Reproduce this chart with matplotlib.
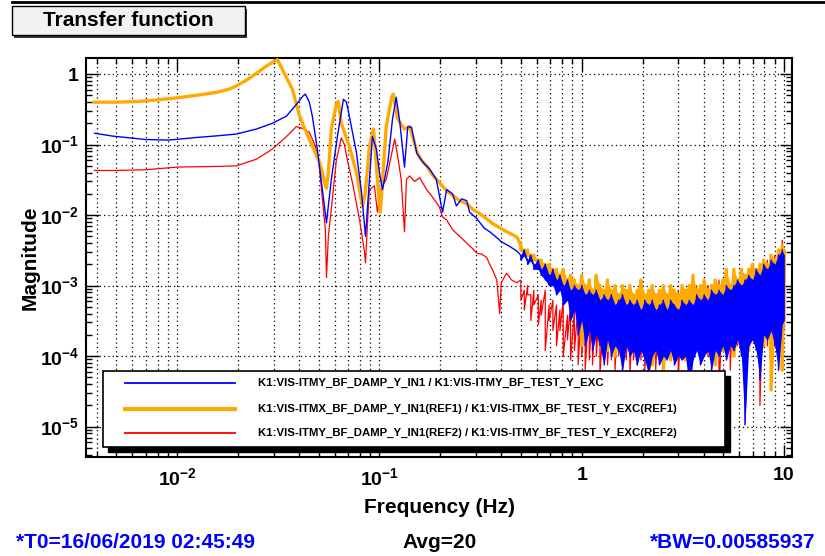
import numpy as np
import matplotlib.pyplot as plt
from matplotlib.patches import Rectangle
from matplotlib.lines import Line2D
from matplotlib.ticker import FixedLocator, FixedFormatter, LogLocator, NullFormatter

plt.rcParams['font.family'] = ['Liberation Sans', 'DejaVu Sans']
plt.rcParams['font.weight'] = 'bold'
plt.rcParams['mathtext.fontset'] = 'custom'
plt.rcParams['mathtext.rm'] = 'Liberation Sans:bold'
plt.rcParams['mathtext.it'] = 'Liberation Sans:bold'
plt.rcParams['mathtext.bf'] = 'Liberation Sans:bold'

# ---- data ----
labels = ['K1:VIS-ITMY_BF_DAMP_Y_IN1 / K1:VIS-ITMY_BF_TEST_Y_EXC',
          'K1:VIS-ITMX_BF_DAMP_Y_IN1(REF1) / K1:VIS-ITMX_BF_TEST_Y_EXC(REF1)',
          'K1:VIS-ITMY_BF_DAMP_Y_IN1(REF2) / K1:VIS-ITMY_BF_TEST_Y_EXC(REF2)']

# low frequency part (single trace)
blue_f = [0.0039, 0.0048, 0.0070, 0.0091, 0.0124, 0.0156, 0.0196, 0.0246, 0.0295, 0.0347,
          0.0388, 0.0416, 0.0430, 0.0450, 0.0466, 0.0493, 0.0522, 0.0547, 0.0578, 0.0619,
          0.0663, 0.0687, 0.0710, 0.0769, 0.0815, 0.0853, 0.0892, 0.0923, 0.0966, 0.100,
          0.1035, 0.110, 0.116, 0.121, 0.126, 0.133, 0.138, 0.144, 0.153, 0.165,
          0.177, 0.191, 0.205, 0.215, 0.230, 0.240, 0.255, 0.270, 0.279, 0.302,
          0.330, 0.351, 0.380, 0.400, 0.440, 0.477]
blue_m = [0.145, 0.132, 0.118, 0.116, 0.126, 0.133, 0.141, 0.166, 0.20, 0.254,
          0.37, 0.48, 0.52, 0.40, 0.25, 0.086, 0.023, 0.0078, 0.032, 0.128,
          0.44, 0.40, 0.25, 0.078, 0.021, 0.005, 0.032, 0.13, 0.086, 0.04,
          0.023, 0.056, 0.23, 0.47, 0.21, 0.048, 0.18, 0.176, 0.075, 0.055,
          0.045, 0.032, 0.011, 0.023, 0.020, 0.0135, 0.017, 0.016, 0.011, 0.009,
          0.0065, 0.0058, 0.0048, 0.0042, 0.0036, 0.0031]

orange_f = [0.0039, 0.0050, 0.0065, 0.0079, 0.0099, 0.0124, 0.0156, 0.0180, 0.0196, 0.0220,
            0.0246, 0.0276, 0.0300, 0.0313, 0.0340, 0.0371, 0.0402, 0.0430, 0.0466, 0.0504,
            0.0522, 0.0540, 0.0547, 0.0559, 0.0578, 0.0612, 0.0626, 0.0648, 0.0671, 0.0710,
            0.0769, 0.0824, 0.0850, 0.0892, 0.0934, 0.0966, 0.0990, 0.101, 0.1035, 0.108,
            0.115, 0.117, 0.123, 0.133, 0.141, 0.147, 0.153, 0.160, 0.171, 0.183,
            0.198, 0.215, 0.230, 0.249, 0.270, 0.290, 0.313, 0.339, 0.365, 0.393,
            0.425, 0.460, 0.480]
orange_m = [0.40, 0.40, 0.41, 0.43, 0.46, 0.50, 0.55, 0.61, 0.68, 0.82,
            1.02, 1.30, 1.50, 1.60, 1.00, 0.61, 0.26, 0.16, 0.095, 0.057,
            0.040, 0.026, 0.024, 0.040, 0.166, 0.375, 0.41, 0.20, 0.15, 0.095,
            0.040, 0.0135, 0.020, 0.095, 0.166, 0.05, 0.02, 0.011, 0.030, 0.18,
            0.47, 0.52, 0.23, 0.166, 0.18, 0.12, 0.08, 0.062, 0.050, 0.037,
            0.029, 0.022, 0.019, 0.016, 0.0145, 0.012, 0.0105, 0.0088, 0.0075, 0.0066,
            0.0058, 0.0052, 0.0048]

red_f = [0.0039, 0.0050, 0.0070, 0.0100, 0.0156, 0.0196, 0.0246, 0.0295, 0.0347, 0.0388,
         0.0416, 0.0450, 0.0482, 0.0504, 0.0522, 0.0540, 0.0547, 0.0559, 0.0585, 0.0612,
         0.0648, 0.0671, 0.0687, 0.0735, 0.0796, 0.0843, 0.0853, 0.0873, 0.0892, 0.0944,
         0.0977, 0.101, 0.108, 0.119, 0.123, 0.128, 0.133, 0.136, 0.141, 0.149,
         0.158, 0.171, 0.183, 0.198, 0.205, 0.215, 0.230, 0.249, 0.270, 0.290,
         0.302, 0.320, 0.339, 0.351, 0.365, 0.380, 0.393, 0.400, 0.425, 0.450,
         0.477]
red_m = [0.043, 0.043, 0.044, 0.048, 0.049, 0.050, 0.062, 0.086, 0.13, 0.18,
         0.17, 0.15, 0.095, 0.050, 0.017, 0.0063, 0.0013, 0.005, 0.017, 0.060,
         0.125, 0.10, 0.069, 0.029, 0.0088, 0.003, 0.0021, 0.008, 0.023, 0.026,
         0.011, 0.023, 0.032, 0.12, 0.069, 0.032, 0.0058, 0.032, 0.036, 0.030,
         0.034, 0.023, 0.018, 0.013, 0.0094, 0.0085, 0.0062, 0.0050, 0.0040, 0.0033,
         0.0029, 0.0028, 0.0025, 0.0020, 0.0016, 0.0012, 0.0004, 0.0011, 0.0015, 0.0012,
         0.0011]

# high frequency part: noisy band, upper / lower value at each frequency
band_f = [0.50, 0.52, 0.54, 0.56, 0.58, 0.61, 0.63, 0.66, 0.69, 0.72,
          0.75, 0.78, 0.81, 0.85, 0.88, 0.92, 0.96, 1.00, 1.04, 1.09,
          1.13, 1.18, 1.23, 1.29, 1.34, 1.40, 1.46, 1.52, 1.59, 1.66,
          1.73, 1.80, 1.88, 1.96, 2.05, 2.14, 2.23, 2.32, 2.42, 2.53,
          2.64, 2.75, 2.87, 3.00, 3.13, 3.26, 3.40, 3.55, 3.70, 3.86,
          4.03, 4.20, 4.38, 4.57, 4.77, 4.98, 5.19, 5.42, 5.65, 5.89,
          6.15, 6.41, 6.69, 6.98, 7.28, 7.60, 7.93, 8.27, 8.63, 9.00,
          9.39, 9.80, 10.0]

blue_hi = [2.7e-3, 3.2e-3, 2.3e-3, 2.7e-3, 2.0e-3, 2.3e-3, 1.7e-3, 2.0e-3, 1.4e-3, 1.7e-3,
           1.2e-3, 1.4e-3, 1.0e-3, 1.2e-3, 8.6e-4, 1.0e-3, 8.6e-4, 1.0e-3, 7.4e-4, 8.6e-4,
           7.4e-4, 8.6e-4, 6.2e-4, 7.4e-4, 6.2e-4, 7.4e-4, 5.3e-4, 6.2e-4, 7.4e-4, 5.3e-4,
           6.2e-4, 5.3e-4, 6.2e-4, 4.5e-4, 6.2e-4, 5.3e-4, 6.2e-4, 4.5e-4, 5.3e-4, 6.2e-4,
           4.5e-4, 6.2e-4, 5.3e-4, 4.5e-4, 6.2e-4, 5.3e-4, 6.2e-4, 5.3e-4, 7.4e-4, 6.2e-4,
           7.4e-4, 6.2e-4, 8.6e-4, 7.4e-4, 8.6e-4, 7.4e-4, 1.0e-3, 8.6e-4, 1.0e-3, 1.2e-3,
           1.0e-3, 1.2e-3, 1.4e-3, 1.2e-3, 1.7e-3, 1.4e-3, 2.0e-3, 1.7e-3, 2.3e-3, 2.0e-3,
           2.7e-3, 3.2e-3, 2.7e-3]
blue_lo = [2.3e-3, 2.7e-3, 2.0e-3, 2.3e-3, 1.7e-3, 1.7e-3, 1.4e-3, 1.2e-3, 1.0e-3, 1.0e-3,
           7.4e-4, 8.6e-4, 5.3e-4, 6.2e-4, 3.2e-4, 4.5e-4, 2.0e-4, 3.2e-4, 1.4e-4, 2.3e-4,
           1.2e-4, 2.0e-4, 1.4e-4, 7.5e-5, 1.7e-4, 1.0e-4, 1.4e-4, 1.2e-4, 6.3e-5, 1.4e-4,
           1.0e-4, 1.2e-4, 7.5e-5, 1.2e-4, 8.8e-5, 5.4e-5, 1.0e-4, 1.2e-4, 7.5e-5, 1.0e-4,
           8.8e-5, 1.2e-4, 7.5e-5, 1.0e-4, 8.8e-5, 1.0e-4, 3.3e-5, 8.8e-5, 1.2e-4, 7.5e-5,
           1.0e-4, 1.2e-4, 6.3e-5, 1.2e-4, 1.0e-4, 1.4e-4, 8.8e-5, 1.4e-4, 1.2e-4, 1.7e-4,
           1.0e-4, 1.06e-5, 1.4e-4, 1.7e-4, 1.2e-4, 4.6e-5, 2.0e-4, 1.7e-4, 2.3e-4, 1.4e-4,
           6.3e-5, 2.8e-4, 3.2e-4]

orange_hi = [3.7e-3, 3.2e-3, 3.2e-3, 2.7e-3, 2.7e-3, 2.3e-3, 2.3e-3, 2.0e-3, 2.0e-3, 1.7e-3,
             1.7e-3, 1.4e-3, 1.7e-3, 1.2e-3, 1.4e-3, 1.2e-3, 1.0e-3, 1.4e-3, 1.0e-3, 1.2e-3,
             8.6e-4, 1.4e-3, 1.0e-3, 8.6e-4, 1.2e-3, 8.6e-4, 1.0e-3, 7.4e-4, 1.0e-3, 8.6e-4,
             1.0e-3, 7.4e-4, 8.6e-4, 1.2e-3, 7.4e-4, 8.6e-4, 1.0e-3, 7.4e-4, 8.6e-4, 1.0e-3,
             7.4e-4, 1.0e-3, 8.6e-4, 7.4e-4, 1.0e-3, 8.6e-4, 1.0e-3, 1.4e-3, 8.6e-4, 1.0e-3,
             1.2e-3, 8.6e-4, 1.0e-3, 1.2e-3, 1.0e-3, 1.2e-3, 1.7e-3, 1.0e-3, 1.7e-3, 1.2e-3,
             1.7e-3, 1.4e-3, 1.7e-3, 2.0e-3, 1.7e-3, 2.0e-3, 2.3e-3, 2.0e-3, 2.7e-3, 2.3e-3,
             3.2e-3, 3.7e-3, 3.2e-3]
orange_lo = [3.2e-3, 2.7e-3, 2.7e-3, 2.3e-3, 2.3e-3, 2.0e-3, 1.7e-3, 1.7e-3, 1.4e-3, 1.2e-3,
             1.0e-3, 1.2e-3, 7.4e-4, 8.6e-4, 4.5e-4, 6.2e-4, 3.2e-4, 1.4e-4, 3.8e-4, 2.3e-4,
             1.7e-4, 2.8e-4, 1.4e-4, 2.0e-4, 1.2e-4, 1.7e-4, 1.0e-4, 1.4e-4, 7.5e-5, 1.7e-4,
             1.2e-4, 1.4e-4, 8.8e-5, 1.4e-4, 1.0e-4, 1.2e-4, 7.5e-5, 1.2e-4, 1.0e-4, 6.3e-5,
             1.2e-4, 8.8e-5, 1.4e-4, 1.0e-4, 1.2e-4, 8.8e-5, 1.2e-4, 1.0e-4, 1.4e-4, 1.2e-4,
             1.2e-4, 1.4e-4, 1.0e-4, 7.5e-5, 1.4e-4, 1.2e-4, 1.7e-4, 1.4e-4, 1.0e-4, 1.7e-4,
             1.4e-4, 1.7e-4, 1.2e-4, 2.0e-4, 1.7e-4, 2.0e-4, 1.4e-4, 2.3e-4, 3.3e-5, 2.0e-4,
             2.3e-4, 6.3e-5, 3.2e-4]

red_hi = [1.2e-3, 8.6e-4, 1.0e-3, 7.4e-4, 8.6e-4, 7.4e-4, 6.2e-4, 8.6e-4, 5.3e-4, 6.2e-4,
          5.3e-4, 4.5e-4, 6.2e-4, 3.8e-4, 5.3e-4, 4.5e-4, 5.3e-4, 6.2e-4, 4.5e-4, 6.2e-4,
          5.3e-4, 7.4e-4, 6.2e-4, 5.3e-4, 7.4e-4, 6.2e-4, 7.4e-4, 6.2e-4, 8.6e-4, 6.2e-4,
          7.4e-4, 6.2e-4, 7.4e-4, 5.3e-4, 7.4e-4, 6.2e-4, 7.4e-4, 6.2e-4, 7.4e-4, 6.2e-4,
          7.4e-4, 6.2e-4, 7.4e-4, 8.6e-4, 7.4e-4, 6.2e-4, 8.6e-4, 7.4e-4, 1.0e-3, 8.6e-4,
          8.6e-4, 1.0e-3, 8.6e-4, 1.0e-3, 1.2e-3, 1.0e-3, 1.2e-3, 1.0e-3, 1.4e-3, 1.2e-3,
          1.4e-3, 1.2e-3, 1.7e-3, 1.4e-3, 1.7e-3, 2.0e-3, 1.7e-3, 2.3e-3, 2.0e-3, 2.7e-3,
          3.2e-3, 4.4e-3, 3.2e-3]
red_lo = [6.2e-4, 4.5e-4, 7.4e-4, 3.2e-4, 5.3e-4, 2.8e-4, 3.8e-4, 1.2e-4, 3.2e-4, 2.3e-4,
          1.4e-4, 2.3e-4, 1.0e-4, 1.7e-4, 8.8e-5, 1.2e-4, 7.5e-5, 1.0e-4, 6.3e-5, 8.8e-5,
          7.5e-5, 1.0e-4, 5.4e-5, 8.8e-5, 7.5e-5, 8.8e-5, 6.3e-5, 1.0e-4, 7.5e-5, 8.8e-5,
          5.4e-5, 8.8e-5, 7.5e-5, 8.8e-5, 6.3e-5, 1.2e-4, 1.0e-4, 6.3e-5, 1.2e-4, 1.0e-4,
          1.2e-4, 1.0e-4, 1.2e-4, 4.6e-5, 1.2e-4, 1.0e-4, 1.2e-4, 1.0e-4, 1.2e-4, 1.0e-4,
          1.2e-4, 1.0e-4, 1.2e-4, 1.0e-4, 2.4e-5, 1.4e-4, 1.2e-4, 6.3e-5, 1.2e-4, 1.4e-4,
          1.4e-4, 1.2e-4, 1.4e-4, 1.7e-4, 1.4e-4, 2.0e-5, 1.7e-4, 1.4e-4, 5.4e-5, 2.0e-4,
          2.0e-4, 1.4e-4, 2.3e-4]

x_ticks = [0.01, 0.1, 1, 10]
x_tick_labels = ['$10^{-2}$', '$10^{-1}$', '1', '10']
y_ticks = [1e-5, 1e-4, 1e-3, 1e-2, 1e-1, 1]
y_tick_labels = ['$10^{-5}$', '$10^{-4}$', '$10^{-3}$', '$10^{-2}$', '$10^{-1}$', '1']

c_blue = '#0000ff'
c_orange = '#ffaa00'
c_red = '#ff0000'


def trace(f_low, m_low, hi, lo):
    # smooth part, then a zig-zag through the upper / lower values of the band
    f = np.concatenate([f_low, np.repeat(band_f, 2)])
    m = np.concatenate([m_low, np.column_stack([hi, lo]).ravel()])
    return f, m


fig = plt.figure(figsize=(8.25, 5.56), dpi=100)
ax = fig.add_axes([0.1042, 0.178, 0.8558, 0.7176])

# red below, blue on top (as in the picture)
f, m = trace(red_f, red_m, red_hi, red_lo)
ax.plot(f, m, color=c_red, lw=0.9, zorder=2)
f, m = trace(orange_f, orange_m, orange_hi, orange_lo)
ax.fill_between(band_f, orange_lo, orange_hi, color=c_orange, lw=0, zorder=3)
ax.plot(f, m, color=c_orange, lw=2.4, zorder=3)
f, m = trace(blue_f, blue_m, blue_hi, blue_lo)
ax.fill_between(band_f, blue_lo, blue_hi, color=c_blue, lw=0, zorder=4)
ax.plot(f, m, color=c_blue, lw=1.0, zorder=4)

ax.set_xscale('log')
ax.set_yscale('log')
ax.set_xlim(3.54e-3, 10.95)
ax.set_ylim(3.7e-6, 1.69)

ax.xaxis.set_major_locator(FixedLocator(x_ticks))
ax.xaxis.set_major_formatter(FixedFormatter(x_tick_labels))
ax.yaxis.set_major_locator(FixedLocator(y_ticks))
ax.yaxis.set_major_formatter(FixedFormatter(y_tick_labels))
ax.xaxis.set_minor_locator(LogLocator(base=10, subs=np.arange(2, 10), numticks=50))
ax.yaxis.set_minor_locator(LogLocator(base=10, subs=np.arange(2, 10), numticks=50))
ax.xaxis.set_minor_formatter(NullFormatter())
ax.yaxis.set_minor_formatter(NullFormatter())

ax.tick_params(which='both', direction='in', top=True, right=True, width=1.0, labelsize=14)
ax.tick_params(which='major', length=9)
ax.tick_params(which='minor', length=4.5)
ax.tick_params(axis='x', pad=7)
ax.tick_params(axis='y', pad=5)
for s in ax.spines.values():
    s.set_linewidth(1.5)

ax.set_axisbelow(True)
ax.grid(True, which='major', color='black', linestyle=(0, (1, 2.5)), lw=0.9)
ax.grid(True, which='minor', axis='x', color='black', linestyle=(0, (1, 2.5)), lw=0.9)

fig.text(0.533, 0.088, 'Frequency (Hz)', ha='center', va='center', fontsize=15, fontweight='bold')
fig.text(0.036, 0.536, 'Magnitude', ha='center', va='center', rotation=90, fontsize=15,
         fontweight='bold')

# legend box with shadow
fig.add_artist(Rectangle((0.1248 + 0.006, 0.196 - 0.009), 0.754, 0.1367,
                         transform=fig.transFigure, fc='black', ec='black', zorder=5))
fig.add_artist(Rectangle((0.1248, 0.196), 0.754, 0.1367, transform=fig.transFigure,
                         fc='white', ec='black', lw=1.2, zorder=6))
rows = [0.311, 0.2644, 0.2212]
styles = [(c_blue, 1.3), (c_orange, 3.0), (c_red, 1.3)]
for lab, y, (c, w) in zip(labels, rows, styles):
    fig.add_artist(Line2D([0.1515, 0.2848], [y, y], transform=fig.transFigure, color=c, lw=w,
                          zorder=7))
    fig.text(0.3127, y, lab, ha='left', va='center', fontsize=8.2, fontweight='bold', zorder=7)

# title pave
fig.add_artist(Rectangle((0.0145 + 0.003, 0.937 - 0.005), 0.2824, 0.052,
                         transform=fig.transFigure, fc='#333333', ec='none'))
fig.add_artist(Rectangle((0.0145, 0.937), 0.2824, 0.052, transform=fig.transFigure,
                         fc='#f2f2f2', ec='black', lw=1))
fig.text(0.155, 0.963, 'Transfer function', ha='center', va='center', fontsize=15,
         fontweight='bold')
fig.add_artist(Line2D([0.0145, 1.0], [0.996, 0.996], transform=fig.transFigure, color='black',
                      lw=2))

# info line
fig.text(0.019, 0.025, '*T0=16/06/2019 02:45:49', ha='left', va='center', fontsize=15,
         fontweight='bold', color=c_blue)
fig.text(0.533, 0.025, 'Avg=20', ha='center', va='center', fontsize=15, fontweight='bold')
fig.text(0.988, 0.025, '*BW=0.00585937', ha='right', va='center', fontsize=15,
         fontweight='bold', color=c_blue)

fig.savefig('out.png', dpi=100)
